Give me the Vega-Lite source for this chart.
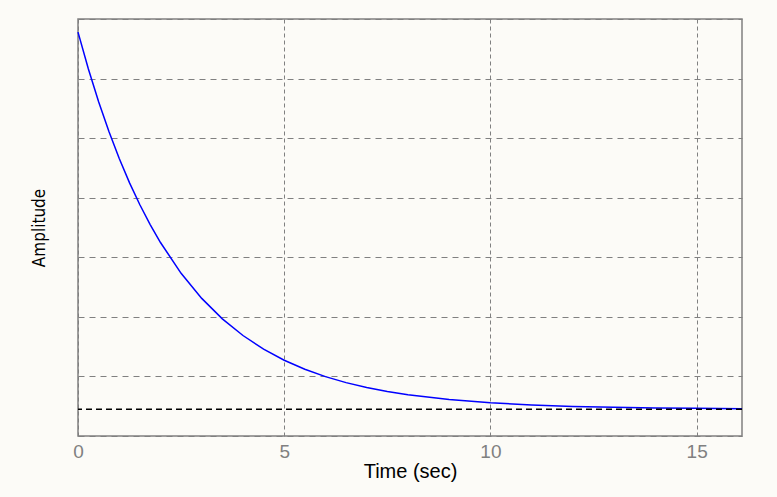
{
  "$schema": "https://vega.github.io/schema/vega-lite/v6.json",
  "width": 664,
  "height": 417,
  "autosize": "none",
  "padding": {"left": 78, "top": 19, "right": 35, "bottom": 61},
  "background": "#fcfbf7",
  "config": {"view": {"stroke": "#808080", "strokeWidth": 1.5, "fill": "#fcfbf7"}},
  "datasets": {
    "resp": [
      {"t": 0, "amp": 6.78},
      {"t": 0.25, "amp": 6.166},
      {"t": 0.5, "amp": 5.611},
      {"t": 0.75, "amp": 5.111},
      {"t": 1, "amp": 4.659},
      {"t": 1.25, "amp": 4.25},
      {"t": 1.5, "amp": 3.882},
      {"t": 1.75, "amp": 3.549},
      {"t": 2, "amp": 3.248},
      {"t": 2.5, "amp": 2.731},
      {"t": 3, "amp": 2.31},
      {"t": 3.5, "amp": 1.967},
      {"t": 4, "amp": 1.687},
      {"t": 4.5, "amp": 1.458},
      {"t": 5, "amp": 1.272},
      {"t": 5.5, "amp": 1.12},
      {"t": 6, "amp": 0.997},
      {"t": 6.5, "amp": 0.896},
      {"t": 7, "amp": 0.813},
      {"t": 7.5, "amp": 0.746},
      {"t": 8, "amp": 0.692},
      {"t": 9, "amp": 0.611},
      {"t": 10, "amp": 0.557},
      {"t": 11, "amp": 0.521},
      {"t": 12, "amp": 0.497},
      {"t": 13, "amp": 0.481},
      {"t": 14, "amp": 0.471},
      {"t": 15, "amp": 0.464},
      {"t": 16.1, "amp": 0.459}
    ],
    "steady": [{"ss": 0.45}]
  },
  "layer": [
    {
      "data": {"name": "resp"},
      "mark": {"type": "line", "color": "#0000ff", "strokeWidth": 1.5},
      "encoding": {
        "x": {
          "field": "t",
          "type": "quantitative",
          "scale": {"domain": [0, 16.1], "nice": false, "zero": false},
          "axis": {
            "values": [0, 5, 10, 15],
            "grid": true,
            "gridDash": [4, 3],
            "gridColor": "#808080",
            "gridOpacity": 1,
            "domain": false,
            "ticks": false,
            "labelFlush": false,
            "labelColor": "#808080",
            "labelFontSize": 19,
            "labelFont": "Liberation Sans",
            "labelPadding": 6,
            "title": "Time (sec)",
            "titleFont": "Liberation Sans",
            "titleFontSize": 20,
            "titleFontWeight": "normal",
            "titleColor": "#000000",
            "titlePadding": 0
          }
        },
        "y": {
          "field": "amp",
          "type": "quantitative",
          "scale": {"domain": [0, 7], "nice": false, "zero": false},
          "axis": {
            "values": [0, 1, 2, 3, 4, 5, 6, 7],
            "grid": true,
            "gridDash": [6, 5],
            "gridColor": "#808080",
            "gridOpacity": 1,
            "domain": false,
            "ticks": false,
            "labels": false,
            "title": "Amplitude",
            "titleFont": "DejaVu Sans Condensed, Liberation Sans",
            "titleFontSize": 17,
            "titleFontWeight": "normal",
            "titleColor": "#000000",
            "titlePadding": 30
          }
        }
      }
    },
    {
      "data": {"name": "steady"},
      "mark": {"type": "rule", "color": "#000000", "strokeDash": [6, 4], "strokeWidth": 1.5},
      "encoding": {
        "y": {"field": "ss", "type": "quantitative"}
      }
    }
  ]
}
